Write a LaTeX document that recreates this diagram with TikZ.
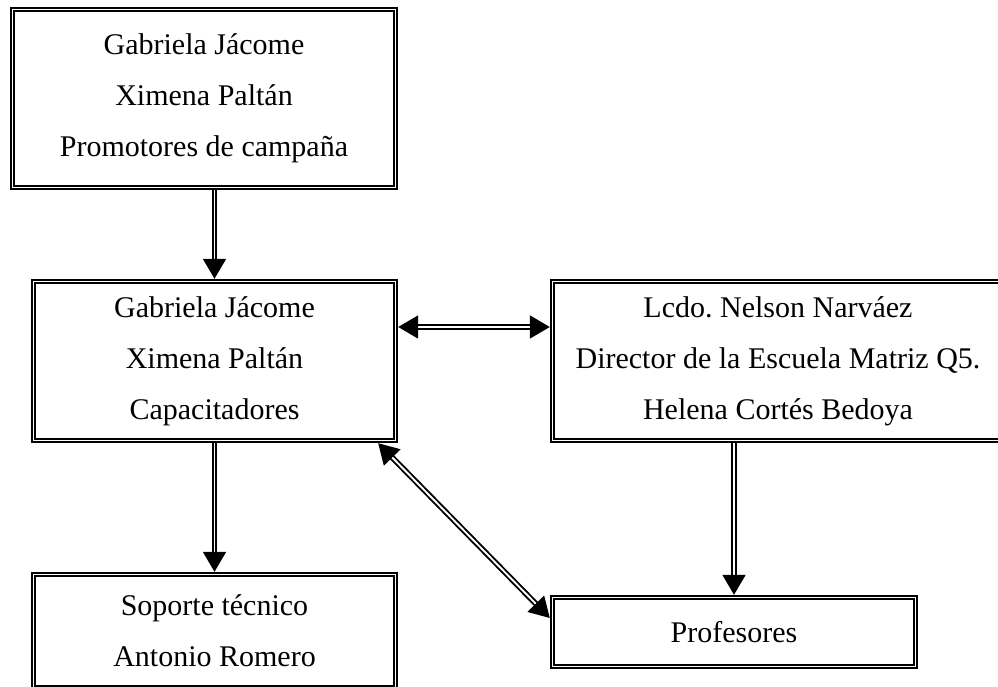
\documentclass[tikz,border=0pt]{standalone}
\usepackage{fontspec}
\setmainfont{Liberation Serif}
\usetikzlibrary{arrows.meta}
\begin{document}
\begin{tikzpicture}[
    x=1pt, y=-1pt,
    font=\fontsize{30}{51}\selectfont,
    box/.style={draw=black,double=white,double distance=1.6pt,line width=1.9pt,
        inner sep=0pt,align=center,outer sep=2.7pt},
    arr/.style={draw=black,double=white,double distance=1.9pt,line width=1.9pt,
        -{Triangle[length=20pt,width=23pt]}},
    biarr/.style={arr,{Triangle[length=20pt,width=23pt]}-{Triangle[length=20pt,width=23pt]}}
]
    \useasboundingbox (0,0) rectangle (998,687);
    \node[box,minimum width=383pt,minimum height=178pt] (prom) at (204,98.5)
        {Gabriela Jácome\\Ximena Paltán\\Promotores de campaña};
    \node[box,minimum width=362pt,minimum height=159pt] (capa) at (214.5,361)
        {Gabriela Jácome\\Ximena Paltán\\Capacitadores};
    \node[box,minimum width=362pt,minimum height=113pt] (sopo) at (214.5,631)
        {Soporte técnico\\Antonio Romero};
    \node[box,minimum width=451pt,minimum height=159pt] (dire) at (778,361)
        {Lcdo.\ Nelson Narváez\\Director de la Escuela Matriz Q5.\\Helena Cortés Bedoya};
    \node[box,minimum width=363pt,minimum height=69pt] (prof) at (734,632)
        {Profesores};

    \draw[arr] (prom.south -| capa.north) -- (capa.north);
    \draw[arr] (capa.south) -- (sopo.north);
    \draw[arr] (dire.south -| prof.north) -- (prof.north);
    \draw[biarr] ([yshift=34pt]capa.east) -- ([yshift=34pt]dire.west);
    \draw[biarr] ([xshift=-20pt]capa.south east) -- ([yshift=14pt]prof.west);
\end{tikzpicture}
\end{document}
